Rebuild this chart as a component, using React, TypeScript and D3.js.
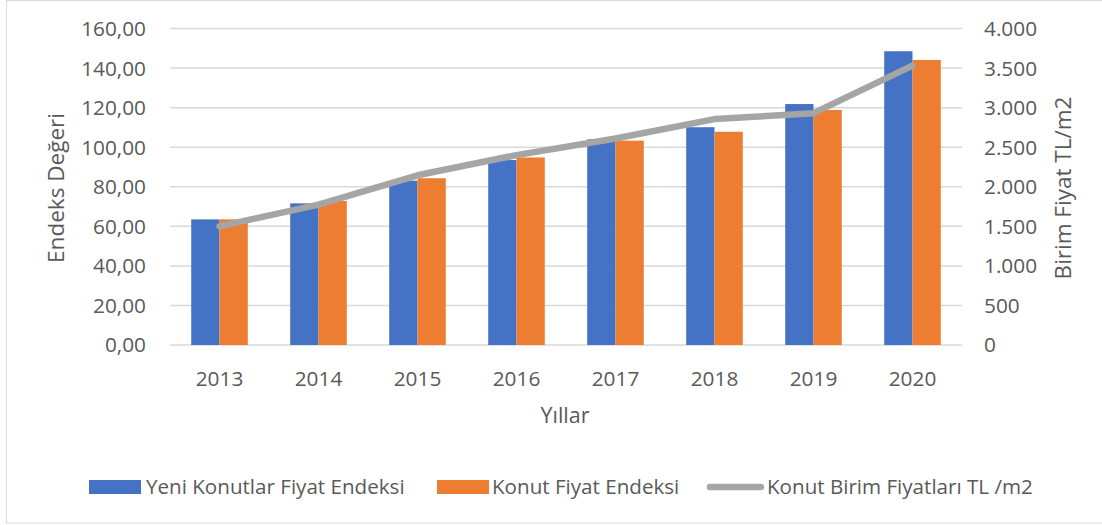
import React from "react";
import * as d3 from "d3";

const years = ["2013", "2014", "2015", "2016", "2017", "2018", "2019", "2020"];
const yeniKonutlarEndeksi = [63.5, 71.6, 83.1, 93.5, 104.0, 110.1, 121.8, 148.5];
const konutFiyatEndeksi = [63.5, 72.8, 84.3, 94.8, 103.3, 107.8, 118.8, 144.1];
const birimFiyat = [1500, 1775, 2145, 2400, 2610, 2855, 2930, 3530];
const leftTicks = [0, 20, 40, 60, 80, 100, 120, 140, 160];
const rightTicks = [0, 500, 1000, 1500, 2000, 2500, 3000, 3500, 4000];
const legendLabels = ["Yeni Konutlar Fiyat Endeksi", "Konut Fiyat Endeksi", "Konut Birim Fiyatları TL /m2"];

const W = 1102;
const H = 525;
const BLUE = "#4472c4";
const ORANGE = "#ed7d31";
const GRAY = "#a5a5a5";
const TEXT = "#595959";
const GRID = "#d9d9d9";
const FONT = "'Open Sans', sans-serif";

export default function App() {
  const x = d3.scaleBand<string>().domain(years).range([170, 962]).paddingInner(0).paddingOuter(0);
  const yL = d3.scaleLinear().domain([0, 160]).range([345, 28.5]);
  const yR = d3.scaleLinear().domain([0, 4000]).range([345, 28.5]);
  const bw = x.bandwidth() / 3.5;
  const cx = (d: string) => (x(d) as number) + x.bandwidth() / 2;
  const fmtL = (v: number) => v.toFixed(2).replace(".", ",");
  const fmtR = (v: number) => (v >= 1000 ? `${Math.floor(v / 1000)}.${String(v % 1000).padStart(3, "0")}` : String(v));
  const line = d3
    .line<number>()
    .x((_, i) => cx(years[i]))
    .y((v) => yR(v));

  return (
    <div style={{ position: "fixed", left: 0, top: 0 }}>
      <svg width={W} height={H} style={{ display: "block", fontFamily: FONT }}>
        <rect x={0} y={0} width={W} height={H} fill="#fff" />
        <rect x={6.5} y={0.5} width={1100} height={522.5} fill="none" stroke={GRID} strokeWidth={1} />
        {leftTicks.map((t) => (
          <line key={t} x1={170} x2={962} y1={yL(t)} y2={yL(t)} stroke={GRID} strokeWidth={1.5} />
        ))}
        {years.map((yr, i) => (
          <g key={yr}>
            <rect x={cx(yr) - bw} y={yL(yeniKonutlarEndeksi[i])} width={bw} height={yL(0) - yL(yeniKonutlarEndeksi[i])} fill={BLUE} />
            <rect x={cx(yr)} y={yL(konutFiyatEndeksi[i])} width={bw} height={yL(0) - yL(konutFiyatEndeksi[i])} fill={ORANGE} />
          </g>
        ))}
        <path d={line(birimFiyat) || ""} fill="none" stroke={GRAY} strokeWidth={6.5} strokeLinecap="round" strokeLinejoin="round" />
        {leftTicks.map((t) => (
          <text key={t} x={146} y={yL(t)} dy="0.36em" textAnchor="end" fontSize={20.8} fill={TEXT}>
            {fmtL(t)}
          </text>
        ))}
        {rightTicks.map((t) => (
          <text key={t} x={984} y={yR(t)} dy="0.36em" textAnchor="start" fontSize={20.8} fill={TEXT}>
            {fmtR(t)}
          </text>
        ))}
        {years.map((yr) => (
          <text key={yr} x={cx(yr)} y={386} textAnchor="middle" fontSize={20.8} fill={TEXT}>
            {yr}
          </text>
        ))}
        <text x={565} y={423} textAnchor="middle" fontSize={21.5} fill={TEXT}>
          Yıllar
        </text>
        <text transform="translate(64,188) rotate(-90)" textAnchor="middle" fontSize={22.5} fill={TEXT}>
          Endeks Değeri
        </text>
        <text transform="translate(1071,188) rotate(-90)" textAnchor="middle" fontSize={22.5} fill={TEXT}>
          Birim Fiyat TL/m2
        </text>
        <rect x={89} y={480} width={52} height={14} fill={BLUE} />
        <text x={146} y={494} fontSize={20.6} fill={TEXT}>{legendLabels[0]}</text>
        <rect x={437} y={480} width={52} height={14} fill={ORANGE} />
        <text x={492} y={494} fontSize={20.6} fill={TEXT}>{legendLabels[1]}</text>
        <line x1={710} x2={761} y1={487} y2={487} stroke={GRAY} strokeWidth={6.5} strokeLinecap="round" />
        <text x={767} y={494} fontSize={20.6} fill={TEXT}>{legendLabels[2]}</text>
      </svg>
    </div>
  );
}
